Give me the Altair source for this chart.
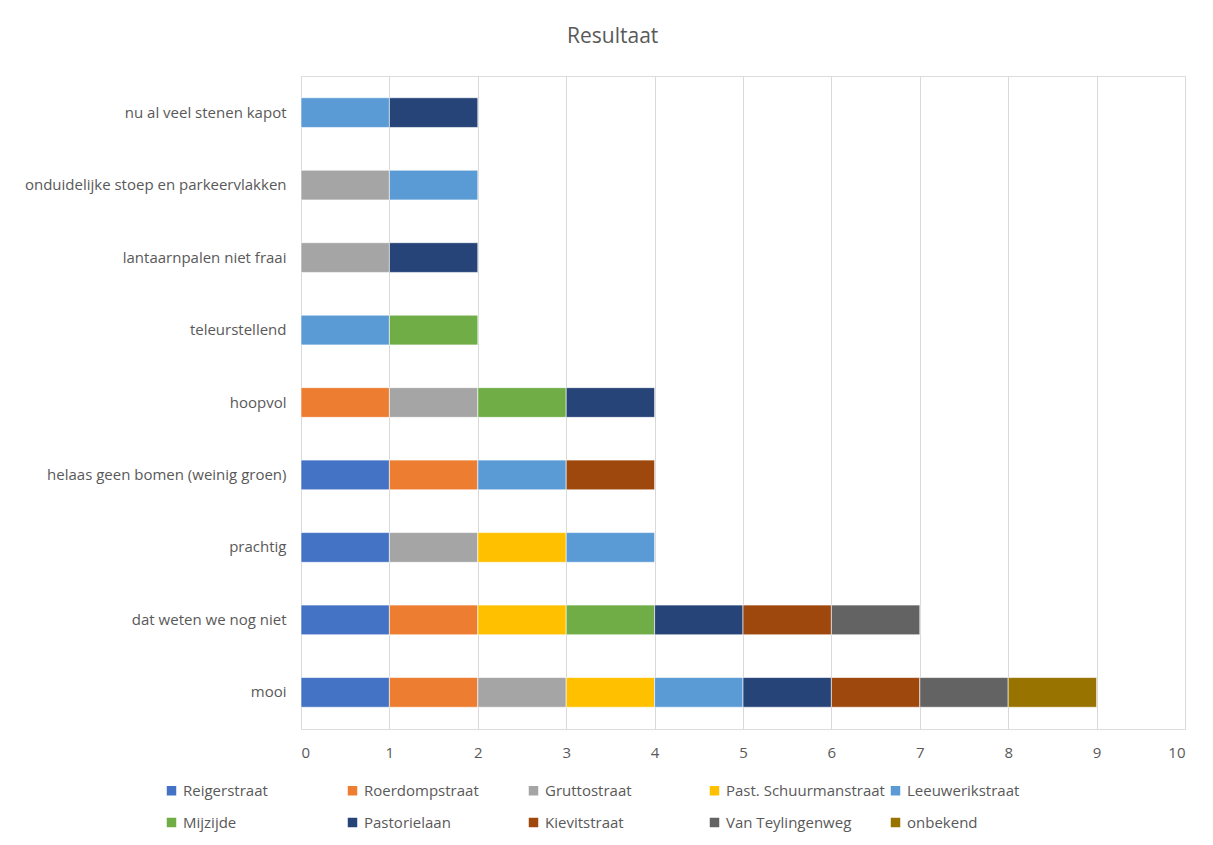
import altair as alt
import pandas as pd

categories = ["nu al veel stenen kapot", "onduidelijke stoep en parkeervlakken",
              "lantaarnpalen niet fraai", "teleurstellend", "hoopvol",
              "helaas geen bomen (weinig groen)", "prachtig",
              "dat weten we nog niet", "mooi"]

series = ["Reigerstraat", "Roerdompstraat", "Gruttostraat", "Past. Schuurmanstraat",
          "Leeuwerikstraat", "Mijzijde", "Pastorielaan", "Kievitstraat",
          "Van Teylingenweg", "onbekend"]

reigerstraat = [0, 0, 0, 0, 0, 1, 1, 1, 1]
roerdompstraat = [0, 0, 0, 0, 1, 1, 0, 1, 1]
gruttostraat = [0, 1, 1, 0, 1, 0, 1, 0, 1]
past_schuurmanstraat = [0, 0, 0, 0, 0, 0, 1, 1, 1]
leeuwerikstraat = [1, 1, 0, 1, 0, 1, 1, 0, 1]
mijzijde = [0, 0, 0, 1, 1, 0, 0, 1, 0]
pastorielaan = [1, 0, 1, 0, 1, 0, 0, 1, 1]
kievitstraat = [0, 0, 0, 0, 0, 1, 0, 1, 1]
van_teylingenweg = [0, 0, 0, 0, 0, 0, 0, 1, 1]
onbekend = [0, 0, 0, 0, 0, 0, 0, 0, 1]

colors = ["#4472C4", "#ED7D31", "#A5A5A5", "#FFC000", "#5B9BD5",
          "#70AD47", "#264478", "#9E480E", "#636363", "#997300"]

values = [reigerstraat, roerdompstraat, gruttostraat, past_schuurmanstraat,
          leeuwerikstraat, mijzijde, pastorielaan, kievitstraat,
          van_teylingenweg, onbekend]

rows = []
for si, (s, vals) in enumerate(zip(series, values)):
    for c, v in zip(categories, vals):
        if v:
            rows.append({"categorie": c, "straat": s, "aantal": v, "volgorde": si})
df = pd.DataFrame(rows)

FONT = "Open Sans"
GREY = "#595959"

chart = alt.Chart(df).mark_bar(stroke="white", strokeWidth=0.6).encode(
    y=alt.Y("categorie:N", sort=categories, title=None,
            scale=alt.Scale(paddingInner=0.59, paddingOuter=0.3),
            axis=alt.Axis(ticks=False, domain=False, labelFontSize=15,
                          labelColor=GREY, labelFont=FONT, labelPadding=15,
                          labelLimit=400)),
    x=alt.X("sum(aantal):Q", title=None,
            scale=alt.Scale(domain=[0, 10], nice=False),
            axis=alt.Axis(values=list(range(11)), format="d", ticks=False,
                          domain=False, grid=True, gridColor="#D9D9D9",
                          labelFontSize=15, labelColor=GREY, labelFont=FONT,
                          labelPadding=16)),
    color=alt.Color("straat:N", sort=series,
                    scale=alt.Scale(domain=series, range=colors),
                    legend=alt.Legend(title=None, orient="none",
                                      legendX=-137, legendY=707,
                                      direction="horizontal", columns=5,
                                      symbolType="square", symbolSize=90,
                                      symbolStrokeWidth=0, labelOffset=4,
                                      labelFontSize=15, labelColor=GREY,
                                      labelFont=FONT, gridAlign="all",
                                      columnPadding=3, rowPadding=16,
                                      labelLimit=220)),
    order=alt.Order("volgorde:Q", sort="ascending"),
).properties(
    width=884, height=653,
    title=alt.TitleParams("Resultaat", fontSize=21, font=FONT, color=GREY,
                          fontWeight="normal", offset=29, frame="bounds",
                          anchor="middle", dx=8),
).configure_view(stroke=None).configure(
    padding={"left": 16, "top": 18, "right": 20, "bottom": 5}
)

chart.save("out.html", embed_options={"renderer": "svg", "actions": False})
